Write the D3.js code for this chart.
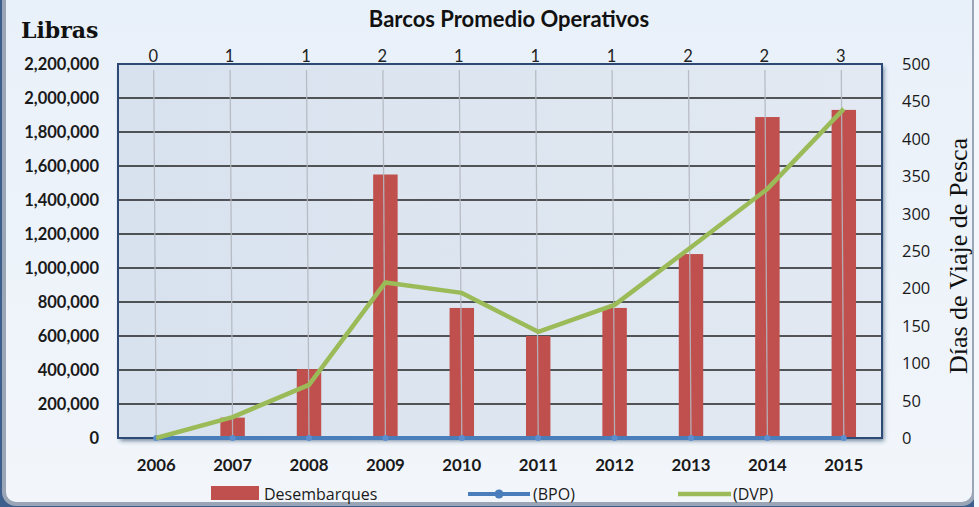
<!DOCTYPE html>
<html><head><meta charset="utf-8">
<script src="https://cdn.jsdelivr.net/npm/d3@7"></script>
<style>html,body{margin:0;padding:0;background:#eef4fb;}svg{display:block;}</style>
</head><body>
<svg id="c" width="979" height="507"></svg>
<script>
const years = ["2006","2007","2008","2009","2010","2011","2012","2013","2014","2015"];
const desembarques = [0,120000,405000,1550000,765000,600000,765000,1082000,1888000,1930000];
const bpo = [0,1,1,2,1,1,1,2,2,3];
const dvp = [0,28,71,208,194,142,178,255,333,440];
const leftTicks = [0,200000,400000,600000,800000,1000000,1200000,1400000,1600000,1800000,2000000,2200000];
const rightTicks = [0,50,100,150,200,250,300,350,400,450,500];

const svg = d3.select("#c");
const W = 979, H = 507;
const m = {l:118, r:882, t:64, b:438};

const defs = svg.append("defs");
const bg = defs.append("linearGradient").attr("id","bg").attr("x1",0).attr("y1",0).attr("x2",0).attr("y2",1);
bg.append("stop").attr("offset","0%").attr("stop-color","#e8f0f9");
bg.append("stop").attr("offset","100%").attr("stop-color","#f2f6fb");
const pg = defs.append("linearGradient").attr("id","pg").attr("x1",0).attr("y1",0).attr("x2",1).attr("y2",0);
pg.append("stop").attr("offset","0%").attr("stop-color","#d8e2ee");
pg.append("stop").attr("offset","100%").attr("stop-color","#e2e9f2");
const sh = defs.append("filter").attr("id","sh").attr("x","-5%").attr("y","-5%").attr("width","110%").attr("height","115%");
sh.append("feDropShadow").attr("dx",2).attr("dy",3).attr("stdDeviation",2).attr("flood-color","#1f3a5f").attr("flood-opacity",0.6);

// background & frame
svg.append("rect").attr("width",W).attr("height",H).attr("fill","#3d5f8e");
svg.append("rect").attr("x",4).attr("y",-20).attr("width",970).attr("height",524).attr("rx",12)
  .attr("fill","url(#bg)").attr("stroke","#9aa6b6").attr("stroke-width",4);
svg.append("rect").attr("x",974).attr("y",0).attr("width",5).attr("height",H).attr("fill","#f4f7fb");

const x = d3.scaleBand().domain(years).range([m.l, m.r]).padding(0);
const yL = d3.scaleLinear().domain([0,2200000]).range([m.b, m.t]);
const yR = d3.scaleLinear().domain([0,500]).range([m.b, m.t]);
const yB = d3.scaleLinear().domain([0,2200000]).range([m.b, m.t]);

// plot area
svg.append("rect").attr("x",m.l).attr("y",m.t).attr("width",m.r-m.l).attr("height",m.b-m.t)
  .attr("fill","url(#pg)").attr("filter","url(#sh)");

// gridlines
svg.append("g").selectAll("line").data(leftTicks.filter(d=>d>0 && d<2200000)).join("line")
  .attr("x1",m.l).attr("x2",m.r).attr("y1",d=>yL(d)).attr("y2",d=>yL(d))
  .attr("stroke","#222").attr("stroke-width",1.5);

// bars
const bw = x.bandwidth()*0.32;
svg.append("g").selectAll("rect").data(years).join("rect")
  .attr("x",d=>x(d)+x.bandwidth()/2-bw/2)
  .attr("y",(d,i)=>yL(desembarques[i]))
  .attr("width",bw)
  .attr("height",(d,i)=>m.b-yL(desembarques[i]))
  .attr("fill","#c0504d");

// drop lines for BPO labels
svg.append("g").selectAll("line").data(years).join("line")
  .attr("x1",d=>x(d)+x.bandwidth()/2-2.5).attr("y1",70)
  .attr("x2",d=>x(d)+x.bandwidth()/2).attr("y2",(d,i)=>yB(bpo[i]))
  .attr("stroke","#b4b8c0").attr("stroke-width",1.3).attr("opacity",0.9);

// border
svg.append("rect").attr("x",m.l).attr("y",m.t).attr("width",m.r-m.l).attr("height",m.b-m.t)
  .attr("fill","none").attr("stroke","#2c4a74").attr("stroke-width",2);

// BPO line
const cx = d=>x(d)+x.bandwidth()/2;
svg.append("path").datum(years)
  .attr("d",d3.line().x(d=>cx(d)).y((d,i)=>yB(bpo[i])))
  .attr("fill","none").attr("stroke","#4a7ebb").attr("stroke-width",4);
svg.append("g").selectAll("circle").data(years).join("circle")
  .attr("cx",cx).attr("cy",(d,i)=>yB(bpo[i])).attr("r",3).attr("fill","#5b8fd0");

// DVP line
svg.append("path").datum(years)
  .attr("d",d3.line().x(d=>cx(d)).y((d,i)=>yR(dvp[i])))
  .attr("fill","none").attr("stroke","#9bbb59").attr("stroke-width",4.5).attr("stroke-linejoin","round");

// BPO labels top
svg.append("g").selectAll("text").data(years).join("text")
  .attr("x",d=>cx(d)-3).attr("y",62).attr("text-anchor","middle")
  .attr("font-family","Lato, 'Open Sans', sans-serif").attr("font-size",16.5).attr("fill","#222")
  .text((d,i)=>bpo[i]);

// left axis labels
svg.append("g").selectAll("text").data(leftTicks).join("text")
  .attr("x",99).attr("y",d=>yL(d)+6).attr("text-anchor","end")
  .attr("font-family","Lato, 'Open Sans', sans-serif").attr("font-weight","bold").attr("font-size",16.5).attr("fill","#1a1a1a")
  .text(d=>d3.format(",")(d));

// right axis labels
svg.append("g").selectAll("text").data(rightTicks).join("text")
  .attr("x",902).attr("y",d=>yR(d)+6).attr("text-anchor","start")
  .attr("font-family","'Open Sans', Lato, sans-serif").attr("font-size",16.5).attr("fill","#1a1a1a")
  .text(d=>d);

// x axis labels
svg.append("g").selectAll("text").data(years).join("text")
  .attr("x",cx).attr("y",471).attr("text-anchor","middle")
  .attr("font-family","Lato, 'Open Sans', sans-serif").attr("font-weight","bold").attr("font-size",16.8).attr("fill","#1a1a1a")
  .text(d=>d);

// titles
svg.append("text").attr("x",509).attr("y",27).attr("text-anchor","middle")
  .attr("font-family","Lato, 'Open Sans', sans-serif").attr("font-weight","bold").attr("font-size",22).attr("fill","#111")
  .text("Barcos Promedio Operativos");
svg.append("text").attr("x",21).attr("y",38)
  .attr("font-family","'DejaVu Serif', serif").attr("font-weight","bold").attr("font-size",22).attr("fill","#111")
  .text("Libras");
svg.append("text").attr("transform","translate(967,256) rotate(-90)").attr("text-anchor","middle")
  .attr("font-family","'Liberation Serif', serif").attr("font-size",26).attr("fill","#111")
  .text("Días de Viaje de Pesca");

// legend
const lg = svg.append("g").attr("font-family","'Open Sans', Lato, sans-serif").attr("font-size",16).attr("fill","#1a1a1a");
lg.append("rect").attr("x",211).attr("y",486).attr("width",48).attr("height",14).attr("fill","#c0504d");
lg.append("text").attr("x",264).attr("y",500).text("Desembarques");
lg.append("line").attr("x1",468).attr("x2",530).attr("y1",494).attr("y2",494).attr("stroke","#4a7ebb").attr("stroke-width",4);
lg.append("circle").attr("cx",499).attr("cy",494).attr("r",4.5).attr("fill","#4a7ebb");
lg.append("text").attr("x",533).attr("y",500).text("(BPO)");
lg.append("line").attr("x1",678).attr("x2",731).attr("y1",494).attr("y2",494).attr("stroke","#9bbb59").attr("stroke-width",4.5);
lg.append("text").attr("x",733).attr("y",500).text("(DVP)");
</script>
</body></html>
